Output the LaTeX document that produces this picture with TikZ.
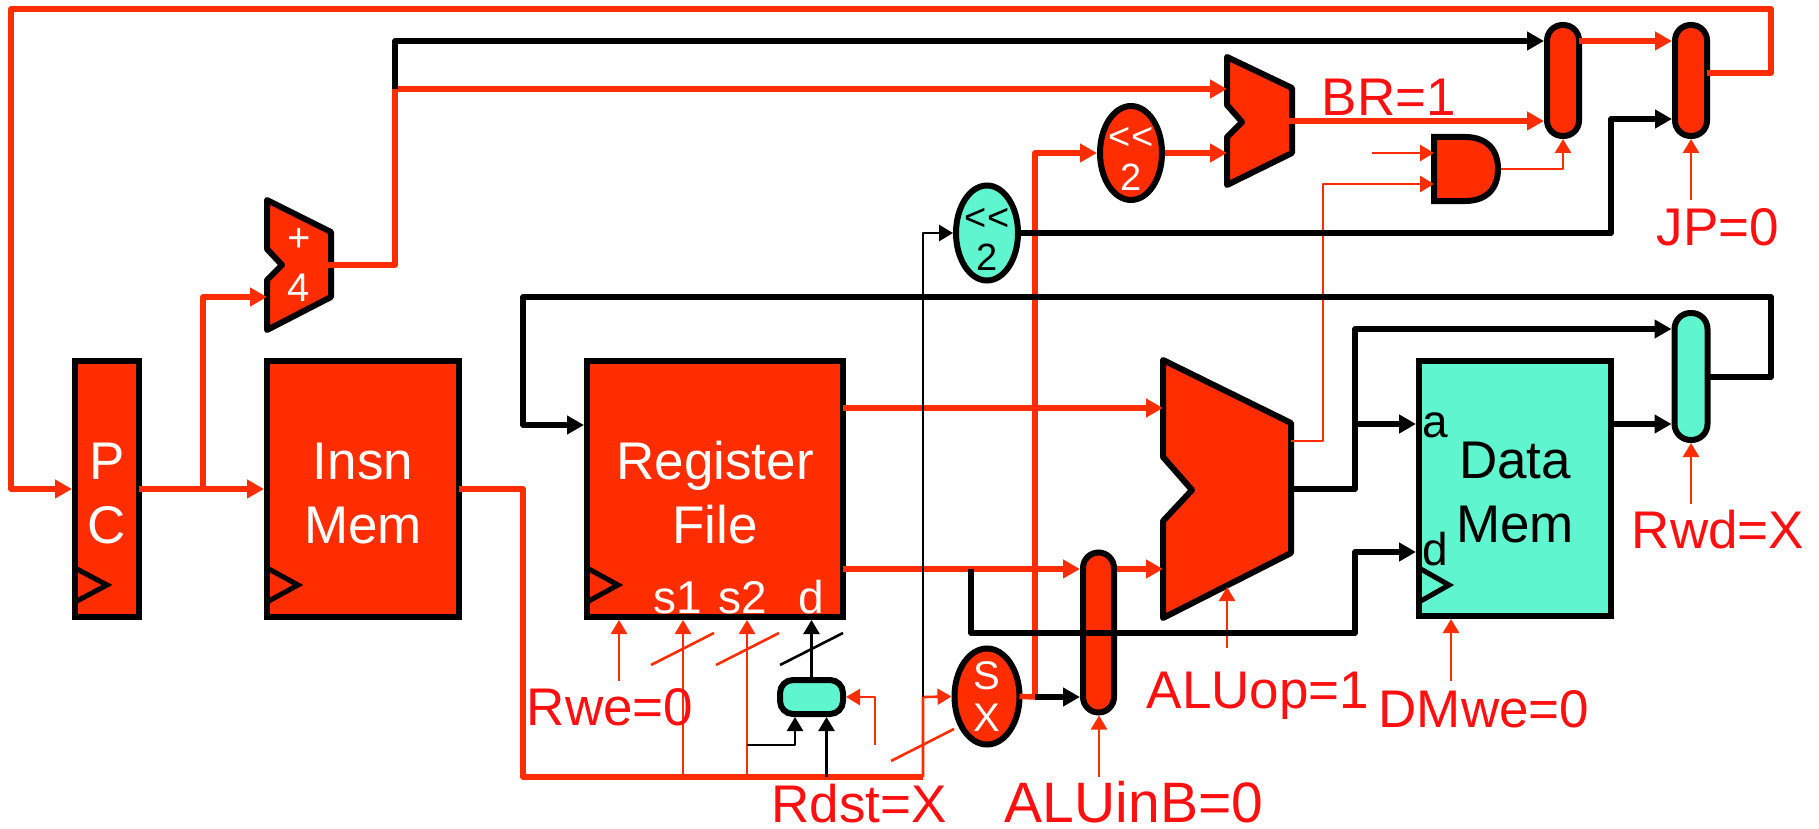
\documentclass[tikz,border=0pt]{standalone}
\usepackage{fontspec}
\setmainfont{Liberation Sans}
\usetikzlibrary{arrows.meta,shapes.geometric}
\definecolor{rd}{HTML}{FF2D00}
\definecolor{tl}{HTML}{5FF5CE}
\definecolor{lb}{HTML}{FF1010}
\newcommand{\fs}[2]{\fontsize{#1pt}{#2pt}\selectfont}
\newcommand{\upp}[1]{\rule{0pt}{#1pt}}
\newcommand{\sll}{\upp{32}\raisebox{-2pt}{<\kern0pt{}<}}
\tikzset{
 shp/.style={draw=black,line width=6pt,line join=miter},
 redf/.style={shp,fill=rd,text=white},
 tealf/.style={shp,fill=tl,text=black},
 blk/.style={rectangle,inner sep=0pt,align=center,font=\fs{53}{64}},
 ell/.style={ellipse,inner sep=-10pt,align=center,font=\fs{38}{42}},
 pill/.style={rectangle,inner sep=0pt},
 ghost/.style={rectangle,inner sep=0pt,outer sep=0pt,align=center,text=white},
 ck/.style={draw=black,line width=5pt,line join=miter,fill=none},
 wr/.style={draw=rd,line width=5.5pt,line join=round,shorten <=-3pt},
 wb/.style={draw=black,line width=5.5pt,line join=round,shorten <=-3pt},
 tr/.style={draw=rd,line width=2.6pt,line join=round},
 tb/.style={draw=black,line width=2.6pt,line join=round},
 ah/.style={-{Triangle[length=17pt,width=18pt]}},
 ahs/.style={-{Triangle[length=14pt,width=16pt]}},
 ctl/.style={anchor=base,inner sep=0pt,text=lb,font=\fs{53}{60}},
 port/.style={anchor=base,inner sep=0pt,font=\fs{46}{50}},
}
\begin{document}
\begin{tikzpicture}[x=1pt,y=-1pt]
\useasboundingbox (0,0) rectangle (1819,829);
% polygons
\draw[redf,line join=round] (267,200)--(331,232)--(331,297)--(267,330)--(267,280)--(282,265)--(267,249)--cycle;
\draw[redf,line join=round] (1227,57)--(1292,88)--(1292,153)--(1227,185)--(1227,137)--(1242,122)--(1227,105)--cycle;
\draw[redf,line join=round] (1163,360)--(1291,423)--(1291,553)--(1163,618)--(1163,521)--(1192,490)--(1163,457)--cycle;
\draw[redf] (1434,137)--(1465,137) .. controls (1487,137) and (1498,150) .. (1498,169) .. controls (1498,188) and (1487,201) .. (1465,201)--(1434,201)--cycle;
% nodes
\node[ghost,minimum width=64pt,minimum height=130pt,font=\fs{40}{52}] (add1) at (299,265) {\raisebox{-2pt}{+}\\4};
\node[ghost,minimum width=65pt,minimum height=128pt] (add2) at (1259.5,121) {};
\node[ghost,minimum width=128pt,minimum height=258pt] (alu) at (1227,489) {};
\node[ghost,minimum width=67pt,minimum height=64pt] (andg) at (1467.5,169) {};
\node[blk,redf,minimum width=64pt,minimum height=256pt] (pc) at (107,489) {\upp{45}P\\C};
\node[blk,redf,minimum width=192pt,minimum height=256pt] (imem) at (363,489) {\upp{45}Insn\\Mem};
\node[blk,redf,minimum width=256pt,minimum height=256pt] (rf) at (715,489) {\upp{45}Register\\File};
\node[blk,tealf,minimum width=192pt,minimum height=255pt] (dm) at (1515,488.5) {\upp{45}Data\\Mem};
\node[ell,tealf,minimum width=62pt,minimum height=95pt] (slt) at (987,233) {\sll\\2};
\node[ell,redf,minimum width=62pt,minimum height=94pt] (slb) at (1131,153) {\sll\\2};
\node[ell,redf,minimum width=65pt,minimum height=96pt,font=\fs{40}{42}] (sx) at (987,696.5) {S\\X};
\node[pill,redf,rounded corners=15.5pt,minimum width=32pt,minimum height=111pt] (mb) at (1563,80.5) {};
\node[pill,redf,rounded corners=15.5pt,minimum width=32pt,minimum height=111pt] (mj) at (1691,80.5) {};
\node[pill,tealf,rounded corners=16pt,minimum width=33pt,minimum height=127pt] (mt) at (1691,376.5) {};
\node[pill,redf,rounded corners=15.5pt,minimum width=31pt,minimum height=160pt] (ma) at (1098.5,632.5) {};
\node[pill,tealf,rounded corners=13pt,minimum width=63pt,minimum height=34pt] (ms) at (811.5,697) {};
% clocks
\draw[ck] (75,568)--(107,585)--(75,602);
\draw[ck] (267,568)--(298,585)--(267,602);
\draw[ck] (587,568)--(618,585)--(587,602);
\draw[ck] (1419,568)--(1449,585)--(1419,602);
% port texts
\node[port,text=white] (ts1) at (678,613) {s1};
\node[port,text=white] (ts2) at (743,613) {s2};
\node[port,text=white] (td) at (811,613) {d};
\node[port,text=black] (ta) at (1435,437) {a};
\node[port,text=black] (tdd) at (1435,565) {d};
% free ends
\coordinate (jA) at (203,489);
\coordinate (jB) at (395,89);
\coordinate (jBus) at (523,777);
\coordinate (jSx) at (1035,697);
\coordinate (jR) at (971,569);
\coordinate (jAl) at (1355,424);
\coordinate (cRwe) at (619,681);
\coordinate (cAlu) at (1227,648);
\coordinate (cDm) at (1451,681);
\coordinate (cRwd) at (1691,504);
\coordinate (cJp) at (1691,200);
\coordinate (cAb) at (1099,777);
\coordinate (cAnd) at (1372,153);
\coordinate (cRd) at (875,745);
% thick red wires
\draw[wr,ah] (mj.east|-0,73)--(1771,73)--(1771,9)--(11,9)--(11,489)--(pc.west|-0,489);
\draw[wr,ah] (pc.east|-0,489)--(imem.west|-0,489);
\draw[wr,ah,shorten <=0pt] (jA)--(203,297)--(add1.west|-0,297);
\draw[wr,ah] (add1.east|-0,265)--(395,265)--(jB)--(add2.west|-0,89);
\draw[wr] (imem.east|-0,489)--(523,489)--(jBus)--(923,777);
\draw[wr,ah] (rf.east|-0,408)--(alu.west|-0,408);
\draw[wr,ah] (rf.east|-0,569)--(ma.west|-0,569);
\draw[wr,ah,shorten <=0pt] (ma.east|-0,569)--(alu.west|-0,569);
\draw[wr] (sx.east)--(jSx);
\draw[wr,ah,shorten <=0pt] (jSx)--(1035,153)--(slb.west);
\draw[wr,ah,shorten <=0pt] (slb.east)--(add2.west|-0,153);
\draw[wr,ah] (add2.east|-0,121)--(mb.west|-0,121);
\draw[wr,ah] (mb.east|-0,41)--(mj.west|-0,41);
% thin red wires
\draw[tr,ahs] (cRwe)--(rf.south-|cRwe);
\draw[tr,ahs] (683,777)--(rf.south-|683,0);
\draw[tr,ahs] (747,777)--(rf.south-|747,0);
\draw[tr,ahs] (cRd)--(875,697)--(ms.east);
\draw[tr,ahs] (923,777)--(923,697)--(sx.west);
\draw[tr,ahs] (cAb)--(ma.south-|cAb);
\draw[tr,ahs] (cAlu)--(1227,587);
\draw[tr,ahs] (cDm)--(dm.south-|cDm);
\draw[tr,ahs] (cRwd)--(mt.south-|cRwd);
\draw[tr,ahs] (cJp)--(mj.south-|cJp);
\draw[tr,ahs] (cAnd)--(andg.west|-cAnd);
\draw[tr,ahs] (alu.east|-0,441)--(1323,441)--(1323,184)--(andg.west|-0,184);
\draw[tr,ahs] (andg.east|-0,169)--(1563,169)--(mb.south);
\draw[tr] (651,665)--(714,633);
\draw[tr] (716,665)--(779,633);
\draw[tr] (891,761)--(954,729);
% black wires
\draw[wb,ah,shorten <=0pt] (jB)--(395,41)--(mb.west|-0,41);
\draw[wb,ah] (mt.east|-0,377)--(1771,377)--(1771,297)--(523,297)--(523,425)--(rf.west|-0,425);
\draw[wb,ah] (slt.east)--(1611,233)--(1611,119)--(mj.west|-0,119);
\draw[wb,ah,shorten <=0pt] (jSx)--(ma.west|-jSx);
\draw[wb,ah] (alu.east|-0,489)--(1355,489)--(1355,329)--(mt.west|-0,329);
\draw[wb,ah,shorten <=0pt] (jAl)--(dm.west|-jAl);
\draw[wb,ah] (dm.east|-0,424)--(mt.west|-0,424);
\draw[wb,ah,shorten <=0pt] (jR)--(971,633)--(1355,633)--(1355,552)--(dm.west|-0,552);
\draw[tb,ahs] (923,697)--(923,233)--(slt.west);
\draw[tb,ahs] (ms.north)--(rf.south-|ms.north);
\draw[tb,ahs] (747,745)--(795,745)--(ms.south-|795,0);
\draw[tb,ahs] (826.5,777)--(ms.south-|826.5,0);
\draw[tb] (780,665)--(843,633);
% labels
\node[ctl] (lRwe) at (610,725) {Rwe=0};
\node[ctl] (lRdst) at (859,822) {Rdst=X};
\node[ctl,font=\fs{57}{60}] (lAb) at (1134,822) {ALUinB=0};
\node[ctl] (lAlu) at (1258,708) {ALUop=1};
\node[ctl] (lDm) at (1484,727) {DMwe=0};
\node[ctl] (lRwd) at (1718,548) {Rwd=X};
\node[ctl] (lJp) at (1718,245) {JP=0};
\node[ctl] (lBr) at (1389,116) {BR=1};
\end{tikzpicture}
\end{document}
